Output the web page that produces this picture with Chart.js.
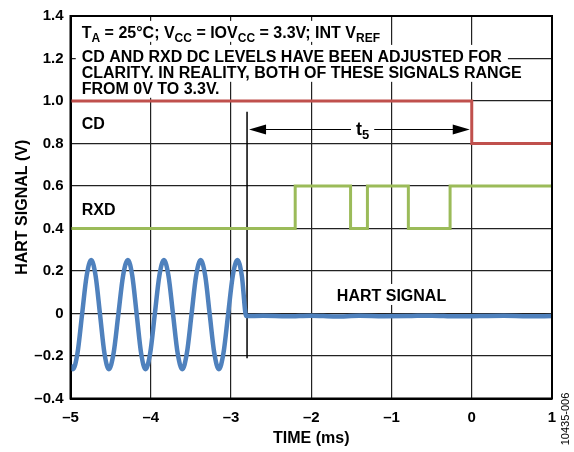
<!DOCTYPE html>
<html>
<head>
<meta charset="utf-8">
<script src="https://cdn.jsdelivr.net/npm/chart.js@4/dist/chart.umd.min.js"></script>
<style>
html,body{margin:0;padding:0;background:#fff;}
canvas{display:block;}
</style>
</head>
<body>
<canvas id="c" width="574" height="452"></canvas>
<script>
// ---- data ----
const xTickValues = [-5, -4, -3, -2, -1, 0, 1];
const xTickLabels = ['\u20135', '\u20134', '\u20133', '\u20132', '\u20131', '0', '1'];
const yTickValues = [-0.4, -0.2, 0, 0.2, 0.4, 0.6, 0.8, 1.0, 1.2, 1.4];
const yTickLabels = ['\u20130.4', '\u20130.2', '0', '0.2', '0.4', '0.6', '0.8', '1.0', '1.2', '1.4'];

const cdTime  = [-5, 0, 0, 1];
const cdLevel = [1.0, 1.0, 0.8, 0.8];

const rxdTime  = [-5, -2.2, -2.2, -1.51, -1.51, -1.3, -1.3, -0.79, -0.79, -0.27, -0.27, 1];
const rxdLevel = [0.4, 0.4, 0.6, 0.6, 0.4, 0.4, 0.6, 0.6, 0.4, 0.4, 0.6, 0.6];

const hartTime = [
  -5.0, -4.970, -4.913, -4.856, -4.799, -4.742, -4.687, -4.632, -4.577,
  -4.522, -4.463, -4.404, -4.345, -4.285, -4.230, -4.175, -4.120,
  -4.065, -4.007, -3.950, -3.893, -3.836, -3.779, -3.722, -3.665,
  -3.607, -3.550, -3.492, -3.435, -3.378, -3.321, -3.265, -3.208,
  -3.151, -3.094, -3.036, -2.978, -2.920, -2.865, -2.810,
  -2.6, -2.3, -2.0, -1.7, -1.4, -1.1, -0.8, -0.5, -0.2, 0.1, 0.4, 0.7, 1.0
];
const hartLevel = [
  -0.243, -0.262, -0.187, -0.005, 0.177, 0.252, 0.177, -0.005, -0.187,
  -0.262, -0.187, -0.005, 0.177, 0.252, 0.177, -0.005, -0.187,
  -0.262, -0.187, -0.005, 0.177, 0.252, 0.177, -0.005, -0.187,
  -0.262, -0.187, -0.005, 0.177, 0.252, 0.177, -0.005, -0.187,
  -0.262, -0.187, -0.005, 0.177, 0.252, 0.177, -0.012,
  -0.011, -0.013, -0.010, -0.014, -0.011, -0.013, -0.012, -0.010, -0.013, -0.012, -0.011, -0.013, -0.012
];

const markerTime = -2.8;
const markerTop = 0.95;
const markerBottom = -0.21;
const t5Start = -2.8;
const t5End = 0;
const t5Level = 0.867;

// ---- styling ----
const FONT = '"Liberation Sans", Arial, Helvetica, sans-serif';
const MAIN = 'bold 16px ' + FONT;
const SUB = 'bold 12px ' + FONT;
const BLUE = '#4f81bd', RED = '#c0504d', GREEN = '#9bbb59';

function pts(xs, ys) { return xs.map((x, i) => ({x: x, y: ys[i]})); }

function partFont(p) { return p[1] ? (p[3] || SUB) : (p[2] || MAIN); }
function richWidth(ctx, parts) {
  let w = 0;
  for (const p of parts) { ctx.font = partFont(p); w += ctx.measureText(p[0]).width; }
  return w;
}
function drawRich(ctx, x, y, parts) {
  let cx = x;
  for (const p of parts) {
    ctx.font = partFont(p);
    ctx.fillText(p[0], cx, p[1] ? y + 4 : y);
    cx += ctx.measureText(p[0]).width;
  }
  return cx;
}

const noteRows = [
  {x: -4.86, y: 1.297, parts: [['T'], ['A', 1], [' = 25\u00B0C; V'], ['CC', 1], [' = IOV'], ['CC', 1], [' = 3.3V; INT V'], ['REF', 1]]},
  {x: -4.86, y: 1.184, parts: [['CD AND RXD DC LEVELS HAVE BEEN ADJUSTED FOR']]},
  {x: -4.86, y: 1.109, parts: [['CLARITY. IN REALITY, BOTH OF THESE SIGNALS RANGE']]},
  {x: -4.86, y: 1.034, parts: [['FROM 0V TO 3.3V.']]},
  {x: -4.86, y: 0.870, parts: [['CD']]},
  {x: -4.86, y: 0.462, parts: [['RXD']]},
  {x: -1.0, y: 0.059, center: true, parts: [['HART SIGNAL']]}
];

const annot = {
  id: 'annot',
  beforeDatasetsDraw(chart) {
    const ctx = chart.ctx, xs = chart.scales.x, ys = chart.scales.y;
    ctx.save();
    ctx.fillStyle = '#fff';
    for (const r of noteRows) {
      const w = richWidth(ctx, r.parts);
      let x = xs.getPixelForValue(r.x);
      if (r.center) x -= w / 2;
      const y = ys.getPixelForValue(r.y);
      ctx.fillRect(x - 6, y - 17, w + 12, 21);
    }
    ctx.restore();
  },
  afterDatasetsDraw(chart) {
    const ctx = chart.ctx, xs = chart.scales.x, ys = chart.scales.y;
    ctx.save();
    ctx.fillStyle = '#000';
    ctx.textBaseline = 'alphabetic';
    ctx.textAlign = 'left';
    for (const r of noteRows) {
      const w = richWidth(ctx, r.parts);
      let x = xs.getPixelForValue(r.x);
      if (r.center) x -= w / 2;
      drawRich(ctx, x, ys.getPixelForValue(r.y), r.parts);
    }
    // t5 arrow
    const x1 = xs.getPixelForValue(t5Start) + 2;
    const x2 = xs.getPixelForValue(t5End) - 2;
    const ay = Math.round(ys.getPixelForValue(t5Level)) + 0.5;
    const lblParts = [['t', 0, 'bold 18px ' + FONT], ['5', 1, null, 'bold 13px ' + FONT]];
    const lw = richWidth(ctx, lblParts);
    const mid = xs.getPixelForValue(-1.36);
    ctx.strokeStyle = '#000';
    ctx.lineWidth = 1.2;
    ctx.beginPath();
    ctx.moveTo(x1 + 10, ay); ctx.lineTo(mid - lw / 2 - 5, ay);
    ctx.moveTo(mid + lw / 2 + 5, ay); ctx.lineTo(x2 - 10, ay);
    ctx.stroke();
    ctx.beginPath();
    ctx.moveTo(x1, ay); ctx.lineTo(x1 + 17, ay - 5); ctx.lineTo(x1 + 17, ay + 5); ctx.closePath();
    ctx.moveTo(x2, ay); ctx.lineTo(x2 - 17, ay - 5); ctx.lineTo(x2 - 17, ay + 5); ctx.closePath();
    ctx.fill();
    drawRich(ctx, mid - lw / 2, ay + 5, lblParts);
    ctx.restore();
  },
  afterDraw(chart) {
    const ctx = chart.ctx, a = chart.chartArea;
    ctx.save();
    ctx.strokeStyle = '#000';
    ctx.lineWidth = 2;
    ctx.strokeRect(a.left, a.top, a.right - a.left, a.bottom - a.top);
    ctx.translate(chart.width - 8, 419);
    ctx.rotate(-Math.PI / 2);
    ctx.font = '11px ' + FONT;
    ctx.fillStyle = '#000';
    ctx.textAlign = 'center';
    ctx.textBaseline = 'middle';
    ctx.fillText('10435-006', 0, 0);
    ctx.restore();
  }
};

new Chart(document.getElementById('c'), {
  type: 'line',
  data: {
    datasets: [
      {label: 'Marker', data: pts([markerTime, markerTime], [markerTop, markerBottom]), borderColor: '#000', borderWidth: 1.5, order: 4},
      {label: 'CD', data: pts(cdTime, cdLevel), borderColor: RED, borderWidth: 3, order: 2},
      {label: 'RXD', data: pts(rxdTime, rxdLevel), borderColor: GREEN, borderWidth: 3, order: 3},
      {label: 'HART SIGNAL', data: pts(hartTime, hartLevel), borderColor: BLUE, borderWidth: 4.5, cubicInterpolationMode: 'monotone', order: 1}
    ]
  },
  options: {
    responsive: false,
    animation: false,
    devicePixelRatio: 1,
    layout: {padding: {top: 14, right: 22, left: 0, bottom: 0}},
    elements: {point: {radius: 0, hoverRadius: 0}, line: {borderCapStyle: 'butt', borderJoinStyle: 'miter'}},
    plugins: {legend: {display: false}, tooltip: {enabled: false}},
    scales: {
      x: {
        type: 'linear', min: -5, max: 1,
        afterFit(s) { s.height = 53.5; },
        afterBuildTicks(s) { s.ticks = xTickValues.map(v => ({value: v})); },
        ticks: {
          stepSize: 1, padding: 10, color: '#000',
          font: {family: FONT, size: 15, weight: 'bold'},
          callback(v) { const i = xTickValues.indexOf(v); return i >= 0 ? xTickLabels[i] : ''; }
        },
        grid: {color: '#222', lineWidth: 1.2, drawTicks: false},
        border: {display: true, color: '#000', width: 2},
        title: {display: true, text: 'TIME (ms)', color: '#000', font: {family: FONT, size: 16, weight: 'bold'}, padding: {top: 0, bottom: 4}}
      },
      y: {
        type: 'linear', min: -0.4, max: 1.4,
        afterFit(s) { s.width = 70.5; },
        afterBuildTicks(s) { s.ticks = yTickValues.map(v => ({value: v})); },
        ticks: {
          stepSize: 0.2, padding: 7, color: '#000',
          font: {family: FONT, size: 15, weight: 'bold'},
          callback(v) { const r = Math.round(v * 10) / 10; const i = yTickValues.findIndex(t => Math.abs(t - r) < 1e-6); return i >= 0 ? yTickLabels[i] : ''; }
        },
        grid: {color: '#222', lineWidth: 1.2, drawTicks: false},
        border: {display: true, color: '#000', width: 2},
        title: {display: true, text: 'HART SIGNAL (V)', color: '#000', font: {family: FONT, size: 16, weight: 'bold'}, padding: {top: 13, bottom: 0}}
      }
    }
  },
  plugins: [annot]
});
</script>
</body>
</html>
